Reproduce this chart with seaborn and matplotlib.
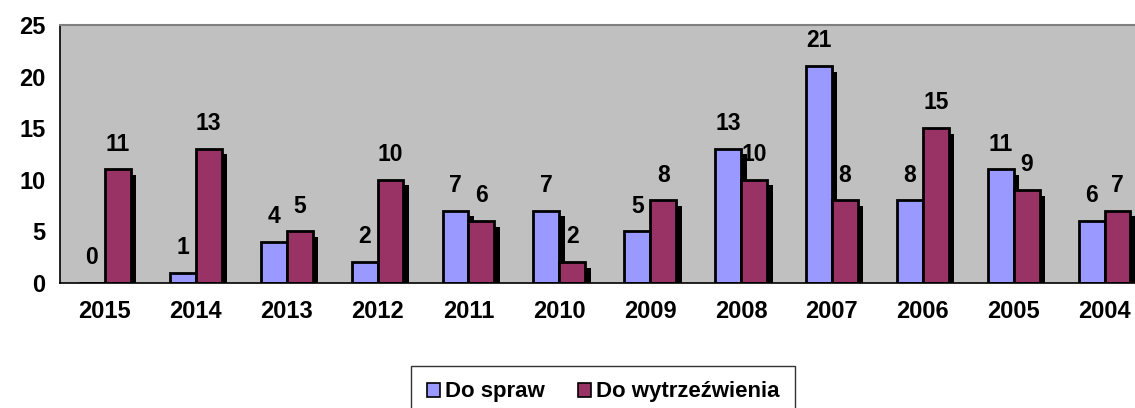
import matplotlib
matplotlib.use('Agg')

import matplotlib.pyplot as plt
import matplotlib.patheffects as pe
from matplotlib.patches import Patch
import seaborn as sns
import numpy as np
import pandas as pd

years = ['2015', '2014', '2013', '2012', '2011', '2010', '2009', '2008', '2007', '2006', '2005', '2004']
do_spraw = [0, 1, 4, 2, 7, 7, 5, 13, 21, 8, 11, 6]
do_wytrz = [11, 13, 5, 10, 6, 2, 8, 10, 8, 15, 9, 7]
series = ['Do spraw', 'Do wytrzeźwienia']
colors = ['#9999FF', '#993366']

sns.set_style('white')
plt.rcParams['font.family'] = ['Liberation Sans', 'DejaVu Sans']
plt.rcParams['font.weight'] = 'bold'
plt.rcParams['text.color'] = 'black'
plt.rcParams['xtick.color'] = 'black'
plt.rcParams['ytick.color'] = 'black'

df = pd.DataFrame({
    'rok': years * 2,
    'wartosc': do_spraw + do_wytrz,
    'seria': [series[0]] * len(years) + [series[1]] * len(years),
})

fig = plt.figure(figsize=(11.35, 4.08), dpi=100)
ax = fig.add_axes([59.5 / 1135, 1 - 283 / 408, (1150 - 59.5) / 1135, 258 / 408])
ax.set_facecolor('#C0C0C0')

sns.barplot(data=df, x='rok', y='wartosc', hue='seria', hue_order=series,
            palette=colors, order=years, width=0.57, saturation=1,
            edgecolor='black', linewidth=2, legend=False, ax=ax)

# cien pod slupkami jak w Excelu
for bar in ax.patches:
    bar.set_path_effects([pe.SimplePatchShadow(offset=(4, -4), shadow_rgbFace='black', alpha=1.0),
                          pe.Normal()])

for cont in ax.containers:
    ax.bar_label(cont, padding=10, fontsize=16.5, fontweight='bold', color='black')

ax.set_xlim(-0.5, 11.5)
ax.set_ylim(0, 25)
ax.set_yticks(range(0, 26, 5))
ax.set_xlabel('')
ax.set_ylabel('')
ax.tick_params(axis='x', which='major', length=0, pad=12, labelsize=17)
ax.set_xticks(np.arange(-0.5, 12, 1), minor=True)
ax.tick_params(axis='x', which='minor', length=5, width=1, color='black', direction='out')
ax.tick_params(axis='y', length=5, width=1, color='black', direction='out', labelsize=17, pad=5)
for lab in ax.get_xticklabels() + ax.get_yticklabels():
    lab.set_fontweight('bold')

ax.spines['left'].set_color('black')
ax.spines['bottom'].set_color('black')
ax.spines['left'].set_linewidth(1.2)
ax.spines['bottom'].set_linewidth(1.2)
ax.spines['top'].set_color('#808080')
ax.spines['top'].set_linewidth(1.5)
ax.spines['right'].set_visible(False)

handles = [Patch(facecolor=c, edgecolor='black', linewidth=1.2) for c in colors]
leg = fig.legend(handles, series, loc='center', bbox_to_anchor=(603 / 1135, 1 - 392 / 408),
                 ncol=2, frameon=True, fancybox=False, edgecolor='black',
                 prop={'size': 16, 'weight': 'bold'}, handlelength=0.6, handleheight=0.6,
                 handletextpad=0.2, columnspacing=1.5, borderpad=0.7)
leg.get_frame().set_linewidth(1.0)

fig.savefig('out.png', dpi=100)
